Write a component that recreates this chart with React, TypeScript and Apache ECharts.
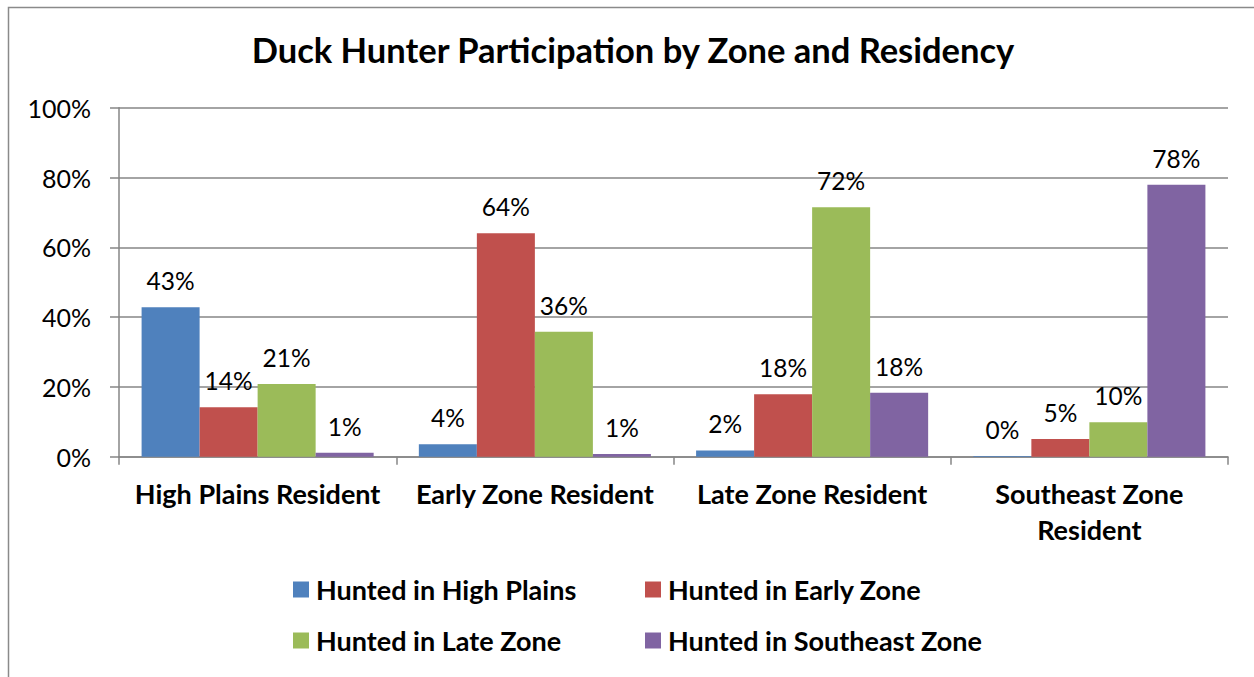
import React, { useEffect, useRef } from "react";
import * as echarts from "echarts";

const categories = [
  "High Plains Resident",
  "Early Zone Resident",
  "Late Zone Resident",
  "Southeast Zone\nResident",
];
const seriesNames = [
  "Hunted in High Plains",
  "Hunted in Early Zone",
  "Hunted in Late Zone",
  "Hunted in Southeast Zone",
];
const highPlains = [42.8, 3.6, 1.8, 0.2];
const earlyZone = [14.2, 64.0, 17.9, 5.1];
const lateZone = [20.8, 35.8, 71.5, 9.9];
const southeastZone = [1.1, 0.8, 18.3, 77.9];
const yTicks = [0, 20, 40, 60, 80, 100];
const colors = ["#4F81BD", "#C0504D", "#9BBB59", "#8064A2"];

const FONT = "Lato, 'Noto Sans', sans-serif";

export default function App() {
  const ref = useRef<HTMLDivElement>(null);
  useEffect(() => {
    document.body.style.margin = "0";
    if (!ref.current) return;
    const chart = echarts.init(ref.current, undefined, { renderer: "svg" });
    const values = [highPlains, earlyZone, lateZone, southeastZone];
    const legendPos = [
      { left: 288, top: 571 },
      { left: 640, top: 571 },
      { left: 288, top: 622 },
      { left: 640, top: 622 },
    ];
    chart.setOption({
      animation: false,
      color: colors,
      textStyle: { fontFamily: FONT },
      title: {
        text: "Duck Hunter Participation by Zone and Residency",
        left: 628,
        top: 27,
        textAlign: "center",
        textStyle: { fontFamily: FONT, fontWeight: "bold", fontSize: 34.5, color: "#000" },
      },
      graphic: [
        {
          type: "rect",
          shape: { x: 8.5, y: 7.5, width: 1300, height: 700 },
          style: { fill: "none", stroke: "#8a8a8a", lineWidth: 1.5 },
          silent: true,
          z: -1,
        },
      ],
      legend: seriesNames.map((n, i) => ({
        data: [n],
        left: legendPos[i].left,
        top: legendPos[i].top,
        icon: "rect",
        itemWidth: 16,
        itemHeight: 16,
        itemGap: 7,
        selectedMode: false,
        textStyle: {
          fontFamily: FONT,
          fontWeight: "bold",
          fontSize: 27,
          color: "#000",
          lineHeight: 27,
          padding: [0, 0, 0, 2],
        },
      })),
      grid: { left: 119, right: 26, top: 107.7, bottom: 220.3, containLabel: false },
      xAxis: {
        type: "category",
        data: categories,
        axisLine: { lineStyle: { color: "#868686", width: 1.5 } },
        axisTick: { show: true, length: 8, lineStyle: { color: "#868686", width: 1.5 } },
        axisLabel: {
          interval: 0,
          margin: 19,
          fontFamily: FONT,
          fontWeight: "bold",
          fontSize: 27,
          lineHeight: 36,
          color: "#000",
        },
      },
      yAxis: {
        type: "value",
        min: yTicks[0],
        max: yTicks[yTicks.length - 1],
        interval: 20,
        axisLine: { show: true, lineStyle: { color: "#868686", width: 1.5 } },
        axisTick: { show: true, length: 9, lineStyle: { color: "#868686", width: 1.5 } },
        splitLine: { lineStyle: { color: "#868686", width: 1.5 } },
        axisLabel: {
          margin: 28,
          fontFamily: FONT,
          fontSize: 25,
          color: "#000",
          formatter: (v: number) => v + "%",
        },
      },
      series: seriesNames.map((n, i) => ({
        name: n,
        type: "bar",
        data: values[i],
        barGap: "0%",
        barCategoryGap: "16.3%",
        itemStyle: { color: colors[i] },
        label: {
          show: true,
          position: "top",
          distance: 14,
          fontFamily: FONT,
          fontSize: 24.5,
          color: "#000",
          formatter: (p: any) => Math.round(p.value) + "%",
        },
      })),
    });
    return () => chart.dispose();
  }, []);
  return <div ref={ref} style={{ width: 1254, height: 677 }} />;
}
